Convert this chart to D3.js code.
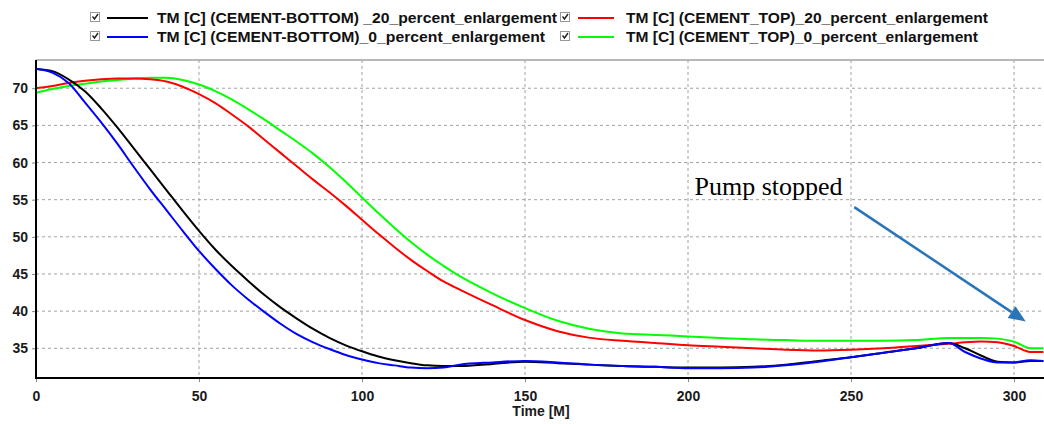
<!DOCTYPE html>
<html>
<head>
<meta charset="utf-8">
<script src="https://cdn.jsdelivr.net/npm/d3@7/dist/d3.min.js"></script>
<style>
  html, body { margin: 0; padding: 0; background: #fff; }
  svg { display: block; }
</style>
</head>
<body>
<svg id="chart" width="1044" height="424"></svg>
<script>
// Sample times (minutes)
const times = [0,5,10,15,20,25,30,35,40,45,50,55,60,65,70,75,80,85,90,95,100,105,110,115,120,125,130,140,150,160,170,180,190,200,210,220,230,240,250,260,270,280,285,290,295,300,305,309];

// Temperature readings [C]
const bottom20 = [72.6,72.3,71.2,69.6,67.3,64.7,61.9,59.1,56.3,53.5,50.8,48.3,46.1,44.1,42.2,40.5,39.0,37.6,36.4,35.4,34.6,33.9,33.4,33.0,32.7,32.6,32.6,32.9,33.2,33.0,32.8,32.6,32.5,32.4,32.4,32.5,32.8,33.3,33.8,34.4,35.0,35.7,35.0,34.0,33.2,33.1,33.3,33.3];
const bottom0  = [72.6,72.1,70.7,68.1,65.4,62.5,59.4,56.4,53.6,50.8,48.1,45.7,43.5,41.6,39.9,38.3,36.9,35.8,34.9,34.1,33.5,33.0,32.7,32.4,32.3,32.4,32.8,33.1,33.3,33.1,32.8,32.6,32.5,32.3,32.3,32.4,32.7,33.2,33.8,34.4,35.0,35.7,34.5,33.6,33.1,33.1,33.4,33.3];
const top20    = [70.0,70.3,70.7,71.0,71.2,71.3,71.3,71.2,70.9,70.2,69.2,68.0,66.5,64.9,63.1,61.3,59.5,57.7,56.0,54.2,52.3,50.4,48.6,46.9,45.4,44.0,42.9,40.8,38.8,37.3,36.4,36.0,35.7,35.4,35.2,35.0,34.8,34.7,34.8,35.0,35.3,35.6,35.8,35.9,35.8,35.3,34.5,34.5];
const top0     = [69.4,69.9,70.3,70.6,70.9,71.1,71.3,71.4,71.4,71.1,70.5,69.6,68.5,67.2,65.8,64.3,62.8,61.2,59.4,57.4,55.3,53.2,51.2,49.3,47.6,46.1,44.7,42.4,40.4,38.7,37.6,37.0,36.8,36.6,36.4,36.2,36.1,36.0,36.0,36.0,36.1,36.4,36.4,36.4,36.3,35.9,35.0,35.0];

const seriesNames  = [
  "TM [C] (CEMENT-BOTTOM) _20_percent_enlargement",
  "TM [C] (CEMENT-BOTTOM)_0_percent_enlargement",
  "TM [C] (CEMENT_TOP)_20_percent_enlargement",
  "TM [C] (CEMENT_TOP)_0_percent_enlargement"
];
const seriesValues = [bottom20, bottom0, top20, top0];
const seriesColors = ["#000000", "#0000ff", "#ff0000", "#00ff00"];

const xTicks = [0,50,100,150,200,250,300];
const yTicks = [35,40,45,50,55,60,65,70];

// Annotation
const noteText = "Pump stopped";
const notePos = [202, 55.6];
const arrowFrom = [251, 54.0];
const arrowTo = [303.6, 38.6];

const svg = d3.select("#chart");
const L = 36, R = 1044, T = 60, B = 378;

const x = d3.scaleLinear().domain([0, 309.2]).range([L, R]);
const y = d3.scaleLinear().domain([31, 73.8]).range([B, T]);

// Grid
const grid = svg.append("g");
grid.selectAll("line.v").data(xTicks.filter(d => d > 0)).join("line")
  .attr("x1", d => x(d)).attr("x2", d => x(d))
  .attr("y1", T).attr("y2", B)
  .attr("stroke", "#a0a0a0").attr("stroke-width", 1).attr("stroke-dasharray", "3,3");
grid.selectAll("line.h").data(yTicks).join("line")
  .attr("x1", L).attr("x2", R)
  .attr("y1", d => y(d)).attr("y2", d => y(d))
  .attr("stroke", "#a0a0a0").attr("stroke-width", 1).attr("stroke-dasharray", "3,3");

// Top border
svg.append("line").attr("x1", L).attr("x2", R).attr("y1", T).attr("y2", T)
  .attr("stroke", "#a0a0a0").attr("stroke-width", 1.5);

// Axes
const xAxis = d3.axisBottom(x).tickValues(xTicks).tickSize(4).tickPadding(6).tickFormat(d3.format("d"));
const yAxis = d3.axisLeft(y).tickValues(yTicks).tickSize(4).tickPadding(4).tickFormat(d3.format("d"));

const gx = svg.append("g").attr("transform", `translate(0,${B})`).call(xAxis);
const gy = svg.append("g").attr("transform", `translate(${L},0)`).call(yAxis);
[gx, gy].forEach(g => {
  g.select(".domain").remove();
  g.selectAll(".tick line").attr("stroke", "#888");
  g.selectAll(".tick text")
    .attr("fill", "#1a1a1a")
    .style("font-family", "'Liberation Sans Narrow', 'Liberation Sans', Arial, sans-serif")
    .style("font-weight", "bold")
    .style("font-size", "14px");
});
gx.selectAll(".tick text").attr("dy", "0.9em");

// Axis lines
svg.append("line").attr("x1", L).attr("x2", L).attr("y1", T).attr("y2", B + 1)
  .attr("stroke", "#000").attr("stroke-width", 2);
svg.append("line").attr("x1", L - 1).attr("x2", R).attr("y1", B).attr("y2", B)
  .attr("stroke", "#000").attr("stroke-width", 2);

svg.append("text").attr("x", 541).attr("y", 416).attr("text-anchor", "middle")
  .attr("fill", "#1a1a1a")
  .style("font-family", "'Liberation Sans Narrow', 'Liberation Sans', Arial, sans-serif")
  .style("font-weight", "bold").style("font-size", "14px")
  .text("Time [M]");

// Series lines
svg.append("clipPath").attr("id", "plotclip").append("rect")
  .attr("x", L + 1).attr("y", T).attr("width", R - L).attr("height", B - T);
const line = d3.line().x(d => x(d[0])).y(d => y(d[1])).curve(d3.curveMonotoneX);
const drawOrder = [3, 2, 0, 1];
svg.append("g").attr("clip-path", "url(#plotclip)")
  .selectAll("path").data(drawOrder).join("path")
  .attr("d", i => line(times.map((t, k) => [t, seriesValues[i][k]])))
  .attr("fill", "none")
  .attr("stroke", i => seriesColors[i])
  .attr("stroke-width", 2)
  .attr("stroke-linejoin", "round");

// Legend
const legendPos = [[90, 18], [90, 37], [560, 18], [560, 37]];
const legendTextLen = [400, 388, 362, 352];
const lg = svg.append("g").selectAll("g").data(seriesNames).join("g")
  .attr("transform", (d, i) => `translate(${legendPos[i][0]},${legendPos[i][1]})`);
lg.append("rect").attr("x", 0.5).attr("y", -5.5).attr("width", 9).attr("height", 9)
  .attr("fill", "#fff").attr("stroke", "#999").attr("stroke-width", 1);
lg.append("path").attr("d", "M2.5,-1.5 L4.5,1 L8,-4")
  .attr("fill", "none").attr("stroke", "#222").attr("stroke-width", 1.4);
lg.append("line").attr("x1", (d, i) => i < 2 ? 17 : 18).attr("x2", (d, i) => i < 2 ? 58 : 54)
  .attr("y1", 0).attr("y2", 0)
  .attr("stroke", (d, i) => seriesColors[i]).attr("stroke-width", 2);
lg.append("text").attr("x", (d, i) => i < 2 ? 67 : 66).attr("y", 5)
  .attr("fill", "#111")
  .attr("textLength", (d, i) => legendTextLen[i])
  .attr("lengthAdjust", "spacingAndGlyphs")
  .style("font-family", "'Liberation Sans Narrow', 'Liberation Sans', Arial, sans-serif")
  .style("font-weight", "bold").style("font-size", "14px")
  .text(d => d);

// Annotation
svg.append("text").attr("x", x(notePos[0])).attr("y", y(notePos[1]))
  .style("font-family", "'Liberation Serif', 'Times New Roman', serif")
  .style("font-size", "26px").attr("fill", "#000")
  .text(noteText);

const ax0 = x(arrowFrom[0]), ay0 = y(arrowFrom[1]);
const ax1 = x(arrowTo[0]), ay1 = y(arrowTo[1]);
const ang = Math.atan2(ay1 - ay0, ax1 - ax0);
const headLen = 17, headW = 7;
const bx = ax1 - headLen * Math.cos(ang), by = ay1 - headLen * Math.sin(ang);
svg.append("line").attr("x1", ax0).attr("y1", ay0).attr("x2", bx).attr("y2", by)
  .attr("stroke", "#2a74b8").attr("stroke-width", 2.5);
svg.append("path")
  .attr("d", `M${ax1},${ay1} L${bx + headW * Math.sin(ang)},${by - headW * Math.cos(ang)} L${bx - headW * Math.sin(ang)},${by + headW * Math.cos(ang)} Z`)
  .attr("fill", "#2a74b8");
</script>
</body>
</html>
